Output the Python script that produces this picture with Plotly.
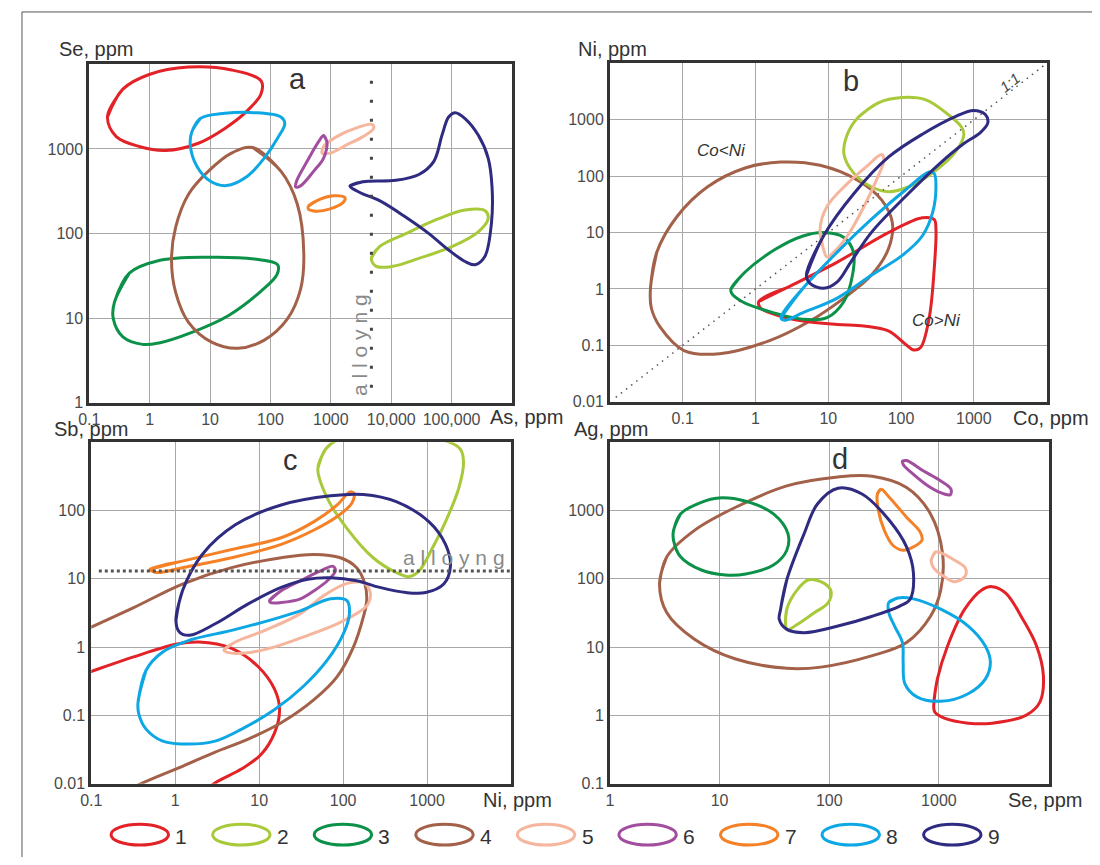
import plotly.graph_objects as go

# ---------------- colours of the nine fields ----------------
FIELD_IDS = [1, 2, 3, 4, 5, 6, 7, 8, 9]
FIELD_COLORS = ["#E32228", "#A8C93A", "#0B9148", "#A3614A", "#F6B59D",
                "#A24E9E", "#F58025", "#0DA8E3", "#2F2B80"]

# ---------------- panel a : As (x) vs Se (y) ----------------
A1_X = [0.20, 0.36, 0.98, 4.4, 22.6, 70, 70, 42, 17.6, 6.4, 1.84, 0.67, 0.28]
A1_Y = [2400, 5100, 7600, 9300, 8600, 6400, 4500, 2860, 1750, 1170, 960, 1070, 1400]
A2_X = [4680, 6410, 17500, 61200, 167000, 355000, 403000, 276000, 101000, 28800, 10600, 5650]
A2_Y = [51, 70, 100, 150, 190, 187, 150, 105, 70, 51, 41, 41]
A3_X = [0.26, 0.46, 1.43, 9.4, 54, 131, 128, 70, 20, 5.0, 1.43, 0.76, 0.36, 0.25]
A3_Y = [15.3, 34, 48, 52.5, 50, 43, 32.7, 20.9, 10.7, 6.8, 5.1, 4.9, 6.0, 9.8]
A4_X = [51, 149, 278, 357, 315, 191, 79, 29, 10.6, 4.4, 2.7, 2.3, 2.7, 4.4, 9.4, 22.6]
A4_Y = [1040, 547, 224, 58, 21.9, 9.8, 5.5, 4.4, 5.2, 8.9, 20, 49, 120, 292, 547, 894]
A5_X = [713, 759, 1250, 2660, 4860, 5110, 3420, 1830, 975]
A5_Y = [894, 1070, 1400, 1780, 1950, 1750, 1400, 1120, 894]
A6_X = [759, 861, 759, 521, 315, 261, 271, 405, 628]
A6_Y = [1440, 1220, 782, 547, 366, 356, 418, 715, 1220]
A7_X = [431, 670, 1105, 1710, 1610, 975, 555, 421]
A7_Y = [214, 256, 280, 267, 234, 196, 184, 196]
A8_X = [5.0, 6.9, 17.6, 54, 149, 173, 131, 79, 42, 18.7, 10, 6.05, 4.7]
A8_Y = [1600, 2290, 2640, 2690, 2390, 2000, 1340, 780, 480, 369, 418, 625, 1120]
A9_X = [2070, 3420, 12000, 28800, 50800, 69500, 89300, 115000, 167000, 276000, 403000,
        468000, 456000, 355000, 244000, 167000, 89300, 42100, 17500, 6410, 3020]
A9_Y = [366, 411, 426, 500, 715, 1460, 2390, 2690, 2290, 1460, 782,
        350, 131, 53.5, 42.8, 46.8, 64, 100, 156, 245, 306]
A_ALLOY_X = [4700, 4700]
A_ALLOY_Y = [6400, 1]

# ---------------- panel b : Co (x) vs Ni (y) ----------------
B1_X = [1.11, 2.6, 13.3, 67, 196, 286, 302, 286, 244, 186, 150, 115, 67, 31, 13.3, 4.5, 1.9, 1.17]
B1_Y = [0.60, 1.03, 3.0, 10, 18.3, 17.1, 11.4, 2.3, 0.31, 0.092, 0.083, 0.105, 0.18, 0.22, 0.235, 0.27, 0.35, 0.46]
B2_X = [25.3, 48, 103, 219, 418, 678, 731, 577, 302, 128, 67, 39, 22.7, 16.4, 18.3]
B2_Y = [1080, 1980, 2480, 2260, 1320, 745, 555, 284, 127, 65, 53, 65, 111, 248, 555]
B3_X = [0.46, 0.72, 1.9, 4.5, 8.6, 16.4, 22.2, 21.5, 16.4, 9.6, 4.5, 1.53, 0.65, 0.47]
B3_Y = [1.0, 2.0, 5.1, 8.7, 10, 8.2, 4.5, 1.75, 0.60, 0.31, 0.29, 0.40, 0.60, 0.84]
B4_X = [0.036, 0.044, 0.084, 0.22, 0.72, 2.24, 7.7, 25.3, 54, 76, 67, 39, 16.4, 5.6, 1.53, 0.32, 0.104, 0.049, 0.037]
B4_Y = [1.03, 4.5, 19.5, 65, 140, 178, 156, 85, 38, 14.9, 5.1, 1.75, 0.69, 0.27, 0.12, 0.071, 0.081, 0.21, 0.46]
B5_X = [8.6, 7.7, 9.6, 18.3, 35, 54, 58, 48, 31, 18.3, 11.9, 9.6]
B5_Y = [5.1, 11.4, 29, 74, 156, 242, 190, 97, 29, 8.7, 4.5, 3.7]
B8_X = [2.24, 4.5, 13.3, 39, 115, 244, 286, 302, 271, 196, 103, 39, 13.3, 4.5, 2.5]
B8_Y = [0.31, 1.03, 4.5, 17.1, 57, 119, 111, 65, 22.3, 8.7, 3.9, 1.75, 0.69, 0.38, 0.28]
B9_X = [5.0, 8.6, 22.7, 67, 196, 577, 990, 1440, 1560, 1230, 716, 337, 115, 39, 20.4, 13.3, 8.6, 5.6]
B9_Y = [1.75, 8.7, 50, 217, 555, 1160, 1460, 1240, 887, 593, 372, 166, 43.6, 10, 3.0, 1.34, 1.03, 1.26]
B_ONE_X = [0.012, 10000]
B_ONE_Y = [0.012, 10000]

# ---------------- panel c : Ni (x) vs Sb (y) ----------------
C1_X = [0.02, 0.1, 0.32, 1.02, 1.92, 4.7, 9.7, 15.3, 17.5, 15.3, 10.6, 6.2, 3.0, 1.47, 0.02]
C1_Y = [0.22, 0.44, 0.72, 1.10, 1.19, 0.96, 0.52, 0.24, 0.122, 0.056, 0.027, 0.0165, 0.0103, 0.0054, 0.005]
C2_X = [50, 62, 93, 1380, 2480, 2720, 2380, 1660, 1160, 805, 615, 429, 228, 111, 65]
C2_Y = [411, 800, 1120, 1120, 800, 513, 211, 69, 28.4, 13.1, 10.8, 12.4, 20.4, 55, 151]
C4_X = [0.02, 0.1, 0.32, 1.22, 4.7, 18.3, 45, 93, 145, 182, 191, 174, 133, 85, 45, 18.3, 7.4, 3.0, 1.22, 0.41, 0.14, 0.02]
C4_Y = [0.77, 1.97, 3.8, 8.4, 14.6, 20.4, 22.8, 20.4, 14.6, 8.4, 4.8, 2.75, 1.01, 0.37, 0.17, 0.078, 0.045, 0.029, 0.018, 0.0103, 0.0058, 0.0058]
C5_X = [3.8, 5.2, 11.7, 31, 59, 111, 174, 208, 199, 145, 85, 38, 15.3, 7.4, 4.3]
C5_Y = [0.91, 1.19, 1.76, 3.1, 5.7, 8.6, 8.8, 6.7, 4.3, 3.1, 2.2, 1.49, 1.01, 0.83, 0.83]
C6_X = [13.3, 18.3, 31, 54, 76, 81, 65, 45, 31, 18.3, 13.6]
C6_Y = [4.8, 6.7, 9.4, 13.1, 15.3, 13.1, 9.4, 6.7, 5.1, 4.5, 4.5]
C7_X = [0.50, 1.22, 4.7, 18.3, 45, 85, 121, 135, 127, 85, 45, 18.3, 4.7, 1.22, 0.60]
C7_Y = [13.8, 18.2, 26.9, 40, 69, 121, 188, 178, 128, 82, 52, 32, 20.4, 14.6, 12.4]
C8_X = [0.36, 0.45, 0.71, 1.47, 4.7, 15.3, 31, 71, 111, 119, 101, 65, 34, 15.3, 6.2, 3.0, 1.47, 0.71, 0.45, 0.37]
C8_Y = [0.153, 0.46, 0.85, 1.26, 1.76, 2.6, 3.4, 5.1, 4.8, 3.1, 1.58, 0.65, 0.27, 0.122, 0.063, 0.042, 0.038, 0.042, 0.063, 0.103]
C9_X = [1.02, 1.22, 2.1, 5.2, 18.3, 71, 174, 429, 1050, 1660, 1900, 1580, 964, 562, 273, 145, 71, 38, 18.3, 7.4, 3.0, 1.47, 1.12]
C9_Y = [2.46, 6.7, 22.8, 62, 121, 165, 172, 135, 69, 32, 15.4, 8.4, 6.3, 6.3, 7.5, 9.4, 10.4, 9.9, 7.5, 4.3, 2.2, 1.49, 1.67]
C_ALLOY_X = [0.123, 10000]
C_ALLOY_Y = [13, 13]

# ---------------- panel d : Se (x) vs Ag (y) ----------------
D1_X = [902, 968, 1200, 1720, 2460, 3060, 4070, 5840, 7780, 8980, 8360, 6270, 3060, 1850, 1120, 914]
D1_Y = [1.58, 3.4, 10.4, 36, 69, 77, 62, 25.5, 10.4, 3.8, 1.58, 1.01, 0.77, 0.77, 0.91, 1.13]
D2_X = [40, 41, 51, 65, 90, 104, 97, 73, 51, 42]
D2_Y = [20.4, 36, 69, 97, 86, 65, 44, 32, 21.5, 18.2]
D3_X = [3.8, 4.4, 6.8, 9.8, 17.3, 31, 42, 41, 31, 17.3, 11.3, 6.8, 4.4, 3.8]
D3_Y = [513, 895, 1320, 1530, 1370, 895, 459, 263, 160, 118, 114, 135, 211, 367]
D4_X = [2.83, 3.3, 5.9, 14.0, 41, 120, 247, 507, 839, 1080, 1040, 839, 507, 247, 84, 41, 14, 5.9, 3.3]
D4_Y = [86, 211, 513, 1120, 2300, 3110, 3180, 2180, 895, 235, 69, 28.4, 11.7, 7.5, 5.1, 4.9, 6.7, 13.1, 32]
D5_X = [851, 934, 1080, 1390, 1750, 1720, 1390, 1120, 902]
D5_Y = [188, 249, 235, 188, 143, 108, 91, 108, 143]
D6_X = [465, 507, 726, 1040, 1290, 1270, 1120, 839, 586, 472]
D6_Y = [5300, 5420, 3800, 2720, 2060, 1710, 1750, 2180, 3400, 4740]
D7_X = [275, 296, 354, 507, 676, 701, 586, 472, 380, 318, 281]
D7_Y = [1750, 2060, 1560, 800, 485, 367, 294, 263, 311, 513, 1000]
D8_X = [349, 424, 586, 1040, 1850, 2650, 2950, 2650, 1850, 1040, 630, 490, 472, 465, 394, 349]
D8_Y = [45, 52.5, 51, 36, 20.4, 10.4, 6.0, 3.4, 2.08, 1.61, 1.87, 2.9, 6.0, 11.7, 20.4, 32]
D9_X = [36, 41, 59, 78, 120, 199, 354, 507, 586, 545, 440, 247, 120, 59, 41, 35]
D9_Y = [36, 97, 459, 1250, 2130, 1750, 716, 294, 121, 50, 40, 28.4, 20.4, 16.3, 18.2, 25.5]

# ---------------- axis tick labels ----------------
A_XTICKS = [0.1, 1, 10, 100, 1000, 10000, 100000]
A_XTEXT = ["0.1", "1", "10", "100", "1000", "10,000", "100,000"]
A_YTICKS = [1, 10, 100, 1000]
B_XTICKS = [0.1, 1, 10, 100, 1000]
B_YTICKS = [0.01, 0.1, 1, 10, 100, 1000]
C_XTICKS = [0.1, 1, 10, 100, 1000]
C_YTICKS = [0.01, 0.1, 1, 10, 100]
D_XTICKS = [1, 10, 100, 1000]
D_YTICKS = [0.1, 1, 10, 100, 1000]

PANELS = {
    "a": ("x", "y", {1: (A1_X, A1_Y), 2: (A2_X, A2_Y), 3: (A3_X, A3_Y), 4: (A4_X, A4_Y),
                      5: (A5_X, A5_Y), 6: (A6_X, A6_Y), 7: (A7_X, A7_Y), 8: (A8_X, A8_Y),
                      9: (A9_X, A9_Y)}),
    "b": ("x2", "y2", {4: (B4_X, B4_Y), 1: (B1_X, B1_Y), 2: (B2_X, B2_Y), 3: (B3_X, B3_Y),
                        5: (B5_X, B5_Y), 8: (B8_X, B8_Y), 9: (B9_X, B9_Y)}),
    "c": ("x3", "y3", {1: (C1_X, C1_Y), 2: (C2_X, C2_Y), 4: (C4_X, C4_Y), 5: (C5_X, C5_Y),
                        6: (C6_X, C6_Y), 7: (C7_X, C7_Y), 8: (C8_X, C8_Y), 9: (C9_X, C9_Y)}),
    "d": ("x4", "y4", {4: (D4_X, D4_Y), 1: (D1_X, D1_Y), 2: (D2_X, D2_Y), 3: (D3_X, D3_Y),
                        5: (D5_X, D5_Y), 6: (D6_X, D6_Y), 7: (D7_X, D7_Y), 8: (D8_X, D8_Y),
                        9: (D9_X, D9_Y)}),
}

OFF = 8  # the page body margin shifts the figure by 8 px
W, H = 1100 - OFF, 865 - 2 * OFF  # keep the page free of overflow
FONT = "Liberation Sans, Arial, sans-serif"
TXT = "#333333"


def px(x):
    return (x - OFF) / W


def py(y):
    return 1 - (y - OFF) / H


def closed(xs, ys):
    # wrap the outline so the spline closes smoothly
    return list(xs) + list(xs[:2]), list(ys) + list(ys[:2])


fig = go.Figure()

for name, (xa, ya, series) in PANELS.items():
    for fid, (xs, ys) in series.items():
        cx, cy = closed(xs, ys)
        fig.add_trace(go.Scatter(
            x=cx, y=cy, xaxis=xa, yaxis=ya, mode="lines",
            line=dict(color=FIELD_COLORS[fid - 1], width=3, shape="spline", smoothing=1.0),
            hoverinfo="skip", showlegend=False))

# reference lines
fig.add_trace(go.Scatter(x=A_ALLOY_X, y=A_ALLOY_Y, xaxis="x", yaxis="y", mode="lines",
                         line=dict(color="#444444", width=3, dash="3px,16px"),
                         hoverinfo="skip", showlegend=False))
fig.add_trace(go.Scatter(x=B_ONE_X, y=B_ONE_Y, xaxis="x2", yaxis="y2", mode="lines",
                         line=dict(color="#555555", width=1.5, dash="1.5px,5px"),
                         hoverinfo="skip", showlegend=False))
fig.add_trace(go.Scatter(x=C_ALLOY_X, y=C_ALLOY_Y, xaxis="x3", yaxis="y3", mode="lines",
                         line=dict(color="#555555", width=3, dash="3px,3px"),
                         hoverinfo="skip", showlegend=False))

tickfont = dict(family=FONT, size=16, color="#4a4a4a")


def ax(domain, rng, tickvals, ticktext=None, anchor=None):
    d = dict(type="log", range=rng, domain=domain, tickvals=tickvals,
             ticktext=ticktext if ticktext else [("%g" % v) for v in tickvals],
             showgrid=True, gridcolor="#a8a8a8", gridwidth=1,
             showline=True, linecolor="#333333", linewidth=3, mirror=True,
             ticks="", tickfont=tickfont, zeroline=False, fixedrange=True,
             anchor=anchor)
    return d


# panel frames in pixels (left, right, top, bottom)
FA = (79, 506, 65, 407)
FB = (605, 1046, 64, 406)
FC = (81, 505, 447, 792)
FD = (605, 1048, 447, 792)


def dom(f):
    return [px(f[0]), px(f[1])], [py(f[3]), py(f[2])]


ax_dom, ay_dom = dom(FA)
bx_dom, by_dom = dom(FB)
cx_dom, cy_dom = dom(FC)
dx_dom, dy_dom = dom(FD)

fig.update_layout(
    width=W, height=H, margin=dict(l=0, r=0, t=0, b=0),
    paper_bgcolor="white", plot_bgcolor="white", showlegend=False,
    font=dict(family=FONT, color=TXT),
    xaxis=ax(ax_dom, [-1, 6], A_XTICKS, A_XTEXT, "y"),
    yaxis=ax(ay_dom, [0, 4], A_YTICKS, None, "x"),
    xaxis2=ax(bx_dom, [-2, 4], B_XTICKS, None, "y2"),
    yaxis2=ax(by_dom, [-2, 4], B_YTICKS, None, "x2"),
    xaxis3=ax(cx_dom, [-1, 4], C_XTICKS, None, "y3"),
    yaxis3=ax(cy_dom, [-2, 3], C_YTICKS, None, "x3"),
    xaxis4=ax(dx_dom, [0, 4], D_XTICKS, None, "y4"),
    yaxis4=ax(dy_dom, [-1, 4], D_YTICKS, None, "x4"),
)

ann = []


def label(x, y, text, size=20, xanchor="left", yanchor="middle", color=TXT, **kw):
    ann.append(dict(x=px(x), y=py(y), xref="paper", yref="paper", text=text, showarrow=False,
                    xanchor=xanchor, yanchor=yanchor,
                    font=dict(family=FONT, size=size, color=color), **kw))


# axis titles
label(46, 49, "Se, ppm")
label(482, 421, "As, ppm")
label(571, 49, "Ni, ppm")
label(1010, 422, "Co, ppm")
label(41, 434, "Sb, ppm")
label(475, 808, "Ni, ppm")
label(567, 434, "Ag, ppm")
label(1005, 808, "Se, ppm")

# panel letters
label(289, 80, "a", size=29, xanchor="center")
label(848, 82, "b", size=29, xanchor="center")
label(282, 465, "c", size=29, xanchor="center")
label(837, 464, "d", size=29, xanchor="center")

# alloying labels
label(352, 349, "a l l o y n g", size=21, xanchor="center", color="#8a8a8a", textangle=-90)
label(447, 563, "a l l o y n g", size=21, xanchor="center", color="#8a8a8a")

# panel b notes (data coordinates)
ann.append(dict(x=-0.47, y=2.45, xref="x2", yref="y2", text="<i>Co&lt;Ni</i>", showarrow=False,
                font=dict(family=FONT, size=17, color=TXT)))
ann.append(dict(x=2.49, y=-0.55, xref="x2", yref="y2", text="<i>Co&gt;Ni</i>", showarrow=False,
                font=dict(family=FONT, size=17, color=TXT)))
ann.append(dict(x=3.49, y=3.67, xref="x2", yref="y2", text="<i>1:1</i>", showarrow=False,
                textangle=-38, font=dict(family=FONT, size=15, color="#444444")))

# legend (ellipses + numbers)
shapes = []
for i, fid in enumerate(FIELD_IDS):
    cxp = 130 + 102.6 * i
    shapes.append(dict(type="circle", xref="paper", yref="paper",
                       x0=px(cxp - 29), x1=px(cxp + 29), y0=py(854), y1=py(833),
                       line=dict(color=FIELD_COLORS[fid - 1], width=3)))
    label(cxp + 42, 845, str(fid), size=21, xanchor="center")

# outer frame of the figure
shapes.append(dict(type="rect", xref="paper", yref="paper",
                   x0=px(11), x1=px(1130), y0=py(900), y1=py(12),
                   line=dict(color="#555555", width=1)))

fig.update_layout(annotations=ann, shapes=shapes)

fig.write_html("out.html")
